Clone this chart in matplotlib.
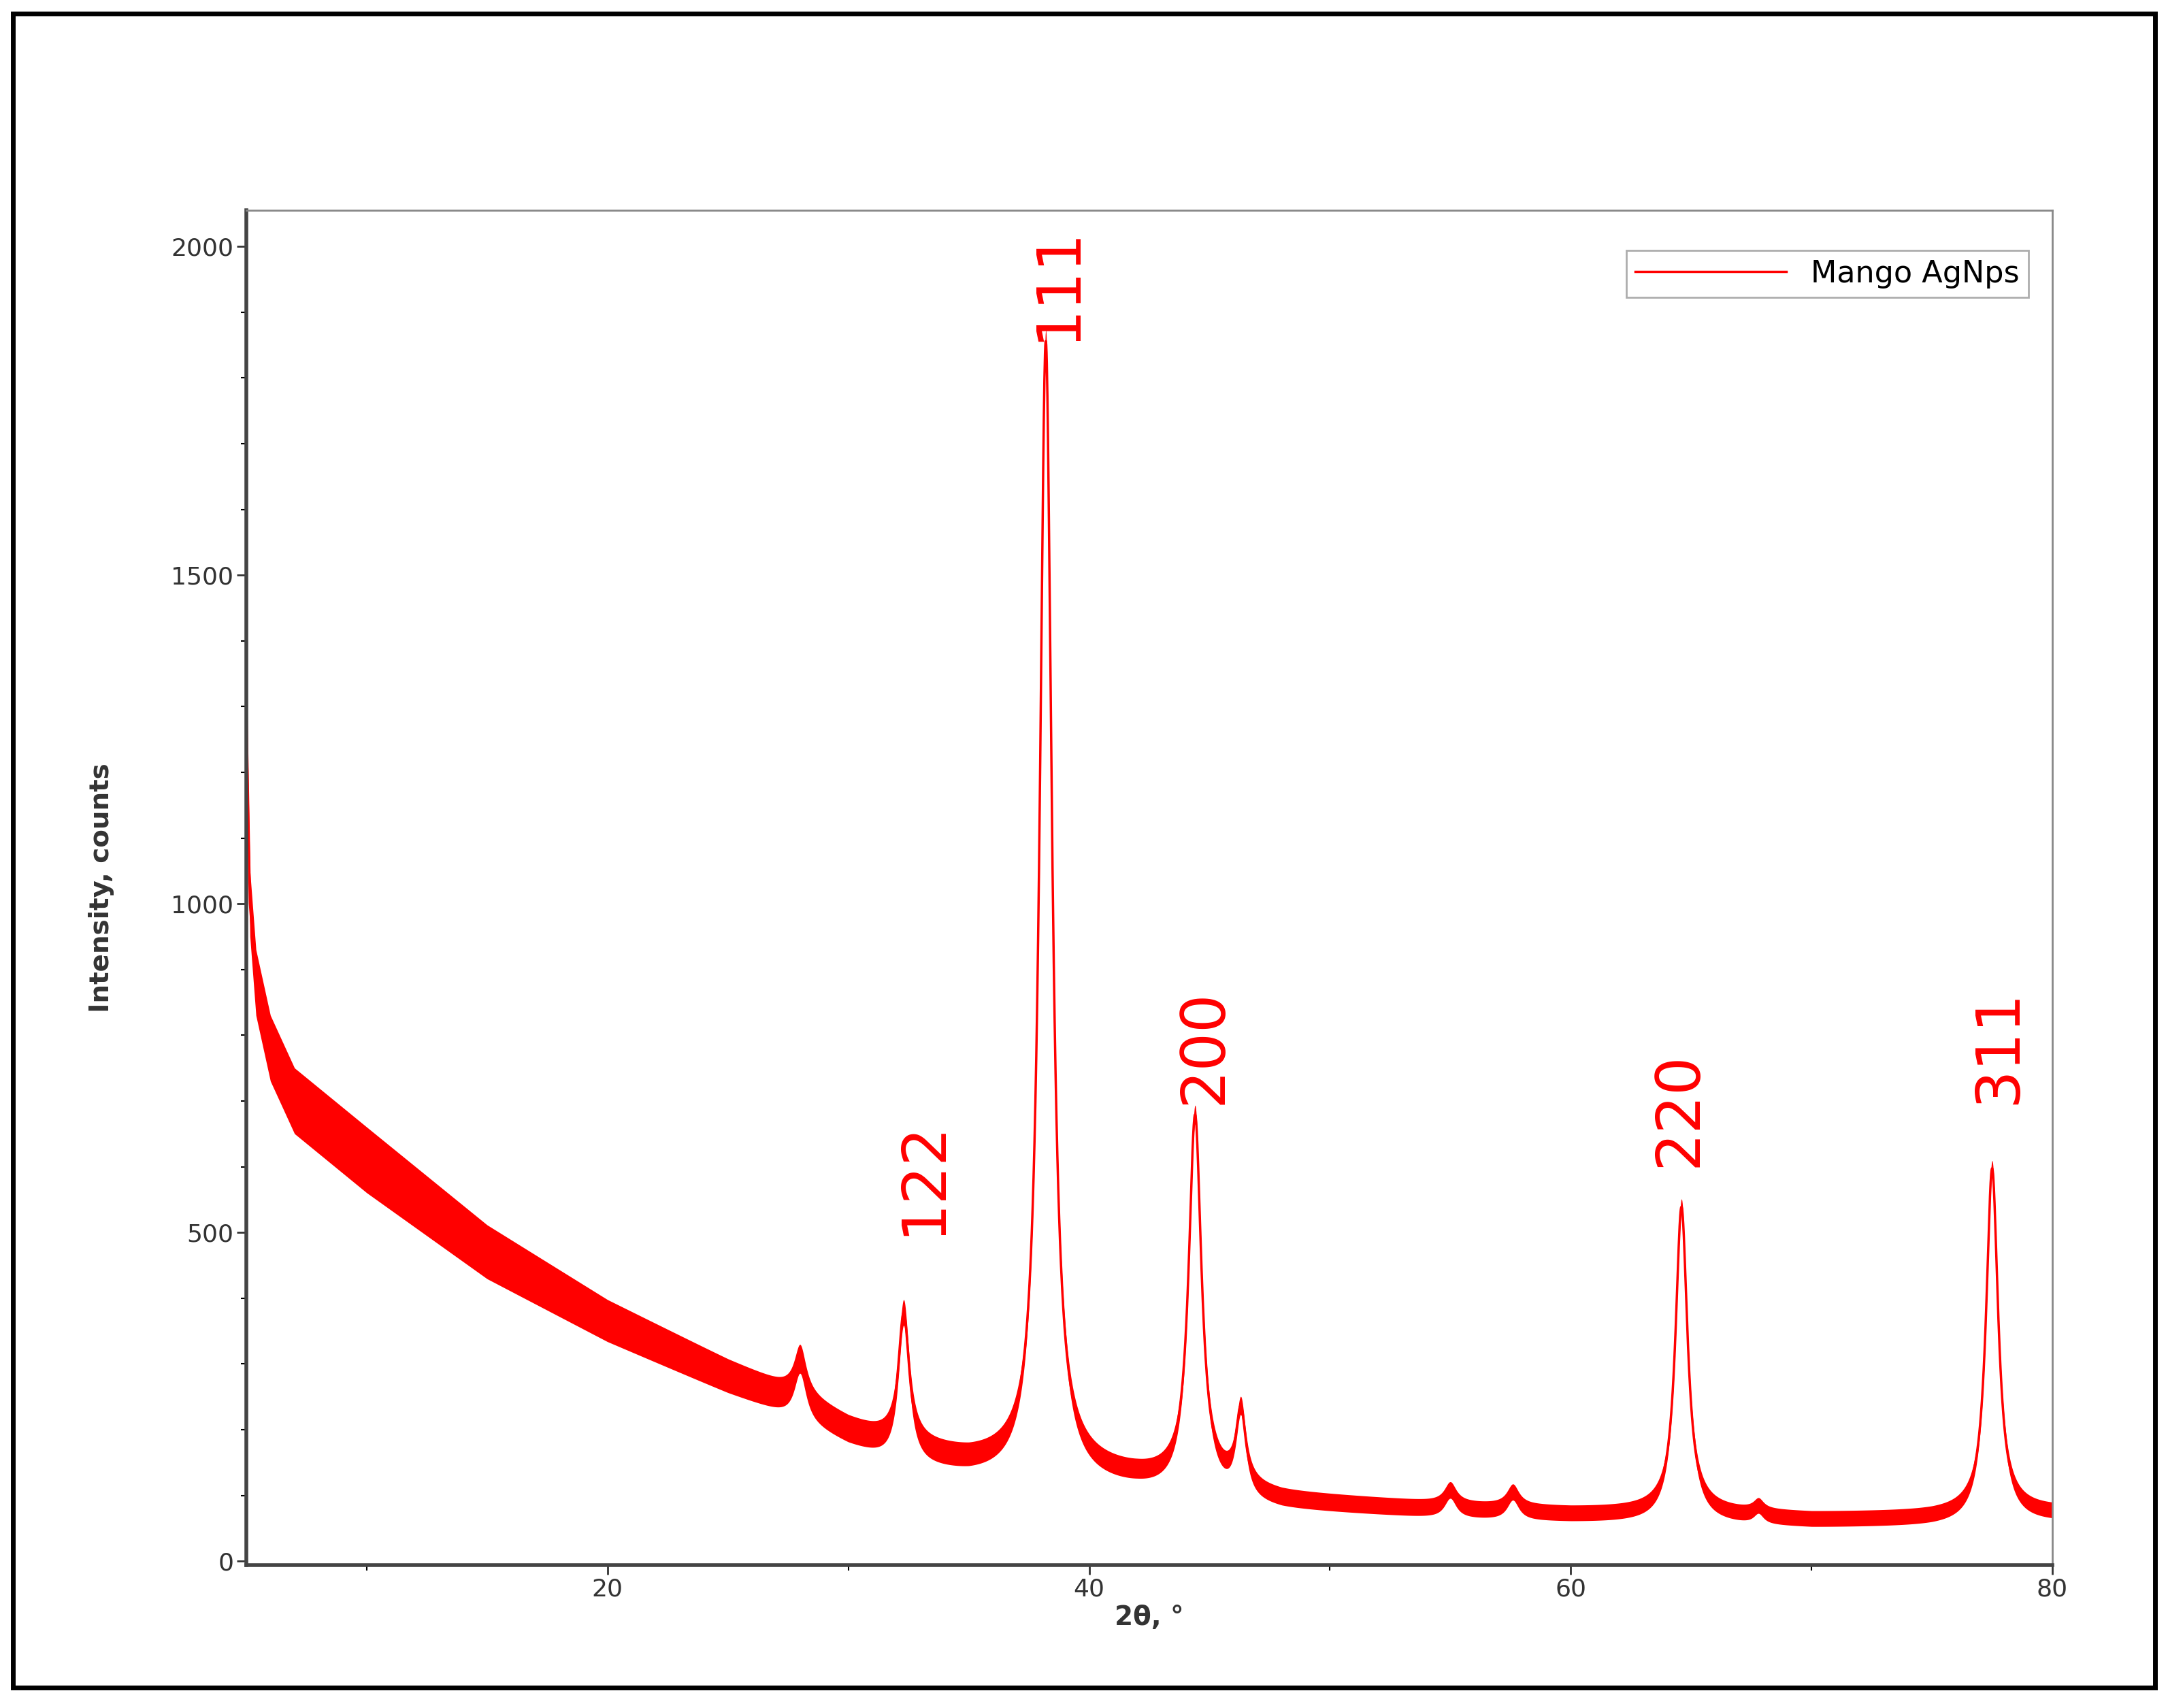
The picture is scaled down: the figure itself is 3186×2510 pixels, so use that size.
import numpy as np
import matplotlib
matplotlib.use("Agg")
import matplotlib.pyplot as plt
from matplotlib.patches import Rectangle

# baseline control points (2theta, counts)
base_x = [5.0, 5.15, 5.4, 6.0, 7.0, 10.0, 15.0, 20.0, 25.0, 28.0, 30.0, 32.0, 35.0, 38.0, 42.0, 45.0, 48.0, 55.0, 60.0, 65.0, 70.0, 75.0, 80.0]
base_y = [1300, 1000, 880, 780, 700, 610, 470, 365, 280, 235, 195, 165, 145, 135, 120, 105, 90, 76, 70, 68, 62, 64, 70]
# noise band half-width (visual thickness)
band_x = [5, 10, 20, 28, 35, 45, 60, 80]
band_y = [50, 50, 32, 22, 18, 14, 12, 12]
# peaks: position, height above baseline, half width
peak_pos = [28.0, 32.3, 38.2, 44.4, 46.3, 55.0, 57.6, 64.6, 67.8, 77.5]
peak_h = [70, 210, 1720, 565, 120, 30, 30, 470, 15, 530]
peak_w = [0.3, 0.28, 0.3, 0.32, 0.25, 0.3, 0.3, 0.3, 0.25, 0.3]
labels = ["122", "111", "200", "220", "311"]
label_x = [33.1, 38.7, 44.8, 64.5, 77.8]
label_y = [495, 1855, 695, 600, 695]

x = np.linspace(5, 80, 6000)
y = np.interp(x, base_x, base_y)
for p, h, w in zip(peak_pos, peak_h, peak_w):
    y = y + h / (1 + ((x - p) / w) ** 2)
band = np.interp(x, band_x, band_y)

fig = plt.figure(figsize=(31.86, 25.10), dpi=100)
fig.patches.append(Rectangle((0.006, 0.012), 0.988, 0.98, transform=fig.transFigure,
                             fill=False, lw=5, ec="black"))
ax = fig.add_axes([362/3186, 1 - 2300/2510, (3016-362)/3186, (2300-309)/2510])
ax.fill_between(x, y - band, y + band, color="#ff0000", lw=0)
ax.plot(x, y, color="#ff0000", lw=2.5, label="Mango AgNps")
ax.set_xlim(5, 80)
ax.set_ylim(-6, 2055)
ax.set_xticks([20, 40, 60, 80])
ax.set_xticks([10, 30, 50, 70], minor=True)
ax.set_yticks([0, 500, 1000, 1500, 2000])
ax.set_yticks(np.arange(0, 2001, 100), minor=True)
ax.tick_params(labelsize=26, colors="#333333", length=10, width=2)
ax.tick_params(which="minor", length=6, width=1.5)
for s in ax.spines.values():
    s.set_color("#888888"); s.set_linewidth(2)
ax.spines["left"].set_color("#444444"); ax.spines["bottom"].set_color("#444444")
ax.spines["left"].set_linewidth(4); ax.spines["bottom"].set_linewidth(4)
ax.set_xlabel("2θ, °", fontsize=28, fontweight="bold", color="#333333")
ax.set_ylabel("Intensity, counts", fontsize=28, fontweight="bold", color="#333333", labelpad=60)
for t, lx, ly in zip(labels, label_x, label_y):
    ax.text(lx, ly, t, rotation=90, color="#ff0000", fontsize=64, ha="center", va="bottom")
leg = ax.legend(loc="upper right", bbox_to_anchor=(0.99, 0.975), fontsize=32, frameon=True,
                handlelength=5, fancybox=False, edgecolor="#999999", borderpad=0.3,
                borderaxespad=0.2)
leg.get_frame().set_linewidth(2)
plt.savefig("out.png", dpi=100)
